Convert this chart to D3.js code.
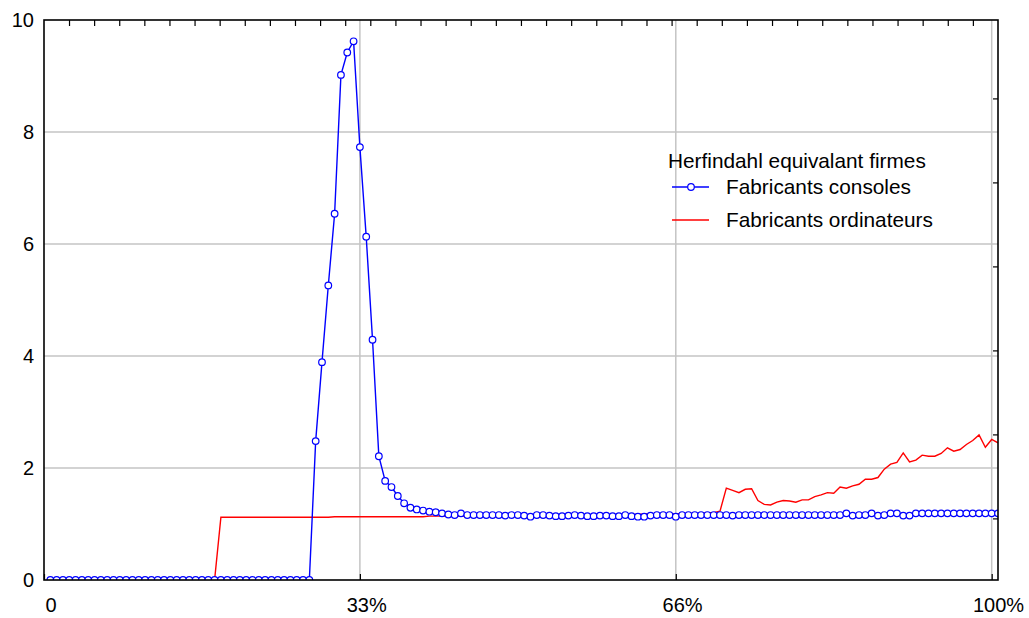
<!DOCTYPE html>
<html>
<head>
<meta charset="utf-8">
<script src="https://cdn.jsdelivr.net/npm/d3@7"></script>
<style>
  body { margin: 0; background: #fff; }
  svg { font-family: 'Liberation Sans', Arial, sans-serif; }
</style>
</head>
<body>
<div id="chart"></div>
<script>
// x = simulation step (1..151), 150 steps = 100%
const xTickValues = [0, 50, 100, 150]
const xTickLabels = ['0', '33%', '66%', '100%']
const yTickValues = [0, 2, 4, 6, 8, 10]

const seriesNames = ['Fabricants consoles', 'Fabricants ordinateurs']
const legendTitle = 'Herfindahl equivalant firmes'

// Fabricants consoles (blue, with circles), steps 1..151
const consoles = [
  0, 0, 0, 0, 0, 0, 0, 0, 0, 0,
  0, 0, 0, 0, 0, 0, 0, 0, 0, 0,
  0, 0, 0, 0, 0, 0, 0, 0, 0, 0,
  0, 0, 0, 0, 0, 0, 0, 0, 0, 0,
  0, 0, 2.48, 3.89, 5.26, 6.54, 9.02, 9.42, 9.62, 7.73,
  6.13, 4.29, 2.21, 1.77, 1.66, 1.50, 1.37, 1.29, 1.26, 1.24,
  1.22, 1.21, 1.19, 1.17, 1.16, 1.19, 1.16, 1.16, 1.16, 1.16,
  1.16, 1.16, 1.15, 1.16, 1.16, 1.15, 1.13, 1.16, 1.16, 1.15,
  1.14, 1.14, 1.15, 1.16, 1.15, 1.14, 1.14, 1.15, 1.15, 1.14,
  1.14, 1.16, 1.14, 1.13, 1.13, 1.15, 1.16, 1.16, 1.16, 1.13,
  1.16, 1.16, 1.16, 1.16, 1.16, 1.16, 1.16, 1.16, 1.15, 1.16,
  1.16, 1.16, 1.16, 1.16, 1.16, 1.16, 1.16, 1.16, 1.16, 1.16,
  1.16, 1.16, 1.16, 1.16, 1.16, 1.16, 1.19, 1.15, 1.16, 1.16,
  1.19, 1.15, 1.16, 1.19, 1.19, 1.15, 1.15, 1.19, 1.19, 1.19,
  1.19, 1.19, 1.19, 1.19, 1.19, 1.19, 1.19, 1.19, 1.19, 1.19,
  1.19
]

// Fabricants ordinateurs (red line), steps 1..151
const ordinateurs = [
  0, 0, 0, 0, 0, 0, 0, 0, 0, 0,
  0, 0, 0, 0, 0, 0, 0, 0, 0, 0,
  0, 0, 0, 0, 0, 0, 0, 1.12, 1.12, 1.12,
  1.12, 1.12, 1.12, 1.12, 1.12, 1.12, 1.12, 1.12, 1.12, 1.12,
  1.12, 1.12, 1.12, 1.12, 1.12, 1.13, 1.13, 1.13, 1.13, 1.13,
  1.13, 1.13, 1.13, 1.13, 1.13, 1.13, 1.13, 1.13, 1.13, 1.13,
  1.14, 1.14, 1.14, 1.14, 1.14, 1.14, 1.14, 1.14, 1.14, 1.14,
  1.15, 1.15, 1.15, 1.15, 1.15, 1.15, 1.15, 1.15, 1.16, 1.16,
  1.16, 1.16, 1.16, 1.16, 1.16, 1.16, 1.17, 1.17, 1.17, 1.17,
  1.17, 1.17, 1.17, 1.17, 1.18, 1.18, 1.18, 1.18, 1.18, 1.18,
  1.19, 1.19, 1.19, 1.19, 1.20, 1.20, 1.23, 1.64, 1.60, 1.56,
  1.62, 1.63, 1.42, 1.35, 1.34, 1.39, 1.42, 1.41, 1.39, 1.43,
  1.43, 1.49, 1.52, 1.56, 1.55, 1.66, 1.64, 1.68, 1.71, 1.80,
  1.80, 1.83, 1.98, 2.07, 2.10, 2.27, 2.11, 2.14, 2.23, 2.21,
  2.21, 2.26, 2.36, 2.30, 2.33, 2.42, 2.49, 2.59, 2.37, 2.51,
  2.45
]

const steps = consoles.map((d, i) => i + 1)

const dimensions = {
  width: 1029,
  height: 618,
  margin: { top: 20, right: 31, bottom: 38, left: 44 }
}
const colors = { consoles: '#0000ff', ordinateurs: '#ff0000', grid: '#c4c4c4' }

const x = d3.scaleLinear()
  .domain([0, 151])
  .range([dimensions.margin.left, dimensions.width - dimensions.margin.right])
const y = d3.scaleLinear()
  .domain([0, 10])
  .range([dimensions.height - dimensions.margin.bottom, dimensions.margin.top])

const [x0, x1] = x.range()
const [y0, y1] = y.range()

const svg = d3.select('#chart')
  .append('svg')
  .attr('width', dimensions.width)
  .attr('height', dimensions.height)

svg.append('clipPath')
  .attr('id', 'plotClip')
  .append('rect')
  .attr('x', x0)
  .attr('y', y1)
  .attr('width', x1 - x0)
  .attr('height', y0 - y1)

// grid
svg.append('g')
  .selectAll('line')
  .data([2, 4, 6, 8])
  .join('line')
  .attr('x1', x0).attr('x2', x1)
  .attr('y1', d => y(d)).attr('y2', d => y(d))
  .attr('stroke', colors.grid)
  .attr('stroke-width', 1.5)
svg.append('g')
  .selectAll('line')
  .data([50, 100, 150])
  .join('line')
  .attr('x1', d => x(d)).attr('x2', d => x(d))
  .attr('y1', y1).attr('y2', y0)
  .attr('stroke', colors.grid)
  .attr('stroke-width', 1.5)

// data
const plot = svg.append('g').attr('clip-path', 'url(#plotClip)')

const line = d3.line()
  .x((d, i) => x(steps[i]))
  .y(d => y(d))

plot.append('path')
  .datum(ordinateurs)
  .attr('d', line)
  .attr('fill', 'none')
  .attr('stroke', colors.ordinateurs)
  .attr('stroke-width', 1.4)

plot.append('path')
  .datum(consoles)
  .attr('d', line)
  .attr('fill', 'none')
  .attr('stroke', colors.consoles)
  .attr('stroke-width', 1.4)

plot.selectAll('circle')
  .data(consoles)
  .join('circle')
  .attr('cx', (d, i) => x(steps[i]))
  .attr('cy', d => y(d))
  .attr('r', 3.3)
  .attr('fill', '#fff')
  .attr('stroke', colors.consoles)
  .attr('stroke-width', 1.2)

// axes
const yAxis = svg.append('g')
  .attr('transform', `translate(${x0},0)`)
  .call(d3.axisLeft(y).tickValues(yTickValues).tickSize(0).tickPadding(10).tickFormat(d3.format('d')))
yAxis.select('.domain').remove()
yAxis.selectAll('text').attr('font-size', 20).attr('fill', '#000').attr('font-family', null)

const stepPx = x(1) - x(0)
const xAxis = svg.append('g')
  .attr('transform', `translate(0,${y0})`)
  .call(d3.axisBottom(x).tickValues(xTickValues).tickSize(-6).tickFormat((d, i) => xTickLabels[i]))
xAxis.select('.domain').remove()
xAxis.selectAll('line').attr('stroke', '#000').attr('stroke-width', 1.2)
xAxis.selectAll('text')
  .attr('font-size', 20)
  .attr('fill', '#000')
  .attr('font-family', null)
  .attr('y', 32)
  .attr('dy', 0)
  .attr('dx', (d, i) => i === 0 ? 1 : stepPx)
  .attr('text-anchor', (d, i) => i === 0 ? 'start' : 'middle')

// minor ticks on top and right frame
const topAxis = svg.append('g')
  .attr('transform', `translate(0,${y1})`)
  .call(d3.axisTop(x).tickValues(d3.range(3.96, 148, 3.974)).tickSize(-6).tickFormat(''))
topAxis.select('.domain').remove()
topAxis.selectAll('line').attr('stroke', '#000').attr('stroke-width', 1.2)

const rightAxis = svg.append('g')
  .attr('transform', `translate(${x1},0)`)
  .call(d3.axisRight(y).tickValues([1.1, 2.6, 4.1, 5.6, 7.1, 8.6]).tickSize(-5).tickFormat(''))
rightAxis.select('.domain').remove()
rightAxis.selectAll('line').attr('stroke', '#000').attr('stroke-width', 1.2)

// frame
svg.append('rect')
  .attr('x', x0)
  .attr('y', y1)
  .attr('width', x1 - x0)
  .attr('height', y0 - y1)
  .attr('fill', 'none')
  .attr('stroke', '#000')
  .attr('stroke-width', 1.6)

// legend
const legend = svg.append('g').attr('font-size', 20.8)
legend.append('text')
  .attr('x', 668)
  .attr('y', 168)
  .text(legendTitle)
const legendRows = [
  { name: seriesNames[0], color: colors.consoles, marker: true, y: 187 },
  { name: seriesNames[1], color: colors.ordinateurs, marker: false, y: 220 }
]
legendRows.forEach(r => {
  legend.append('line')
    .attr('x1', 672).attr('x2', 709)
    .attr('y1', r.y).attr('y2', r.y)
    .attr('stroke', r.color)
    .attr('stroke-width', 1.4)
  if (r.marker) {
    legend.append('circle')
      .attr('cx', 691).attr('cy', r.y)
      .attr('r', 3.3)
      .attr('fill', '#fff')
      .attr('stroke', r.color)
      .attr('stroke-width', 1.2)
  }
  legend.append('text')
    .attr('x', 726)
    .attr('y', r.y + 7)
    .text(r.name)
})
</script>
</body>
</html>
